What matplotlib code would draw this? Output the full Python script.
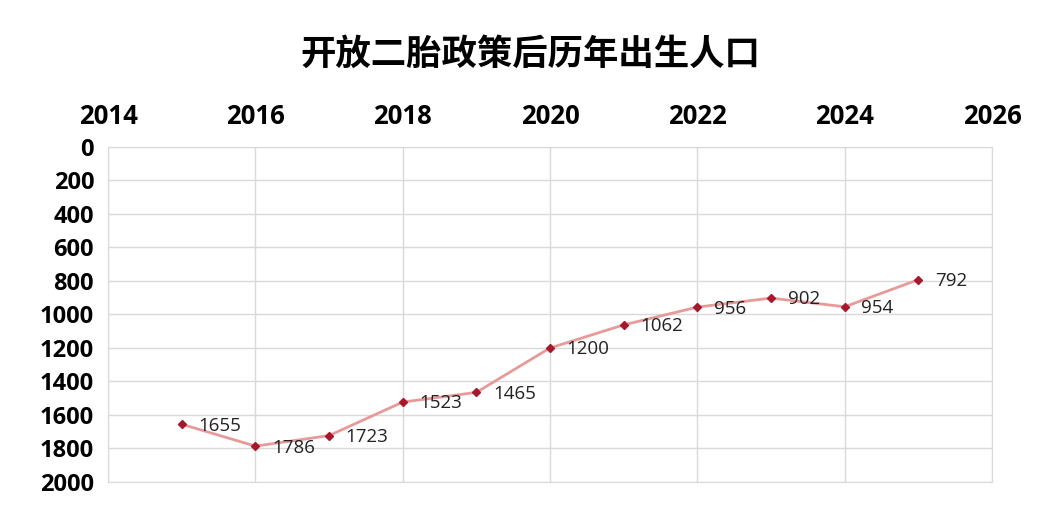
import matplotlib
matplotlib.use("Agg")
import matplotlib.pyplot as plt

plt.rcParams['font.family'] = ['Noto Sans CJK SC', 'DejaVu Sans']

years = [2015, 2016, 2017, 2018, 2019, 2020, 2021, 2022, 2023, 2024, 2025]
births = [1655, 1786, 1723, 1523, 1465, 1200, 1062, 956, 902, 954, 792]
x_ticks = [2014, 2016, 2018, 2020, 2022, 2024, 2026]
y_ticks = [0, 200, 400, 600, 800, 1000, 1200, 1400, 1600, 1800, 2000]

fig = plt.figure(figsize=(10.61, 5.31), dpi=100)
ax = fig.add_axes([0.1018, 0.0923, 0.8332, 0.6309])

ax.plot(years, births, color='#e89a9a', lw=2, zorder=2)
ax.plot(years, births, ls='none', marker='D', ms=4.5, color='#a8182c', zorder=3)
for x, y in zip(years, births):
    ax.annotate(str(y), (x, y), xytext=(12, -1), textcoords='offset points',
                ha='left', va='center', fontsize=13.5, color='#222222',
                family=['Open Sans', 'DejaVu Sans'])

ax.set_xlim(2014, 2026)
ax.set_ylim(2000, 0)
ax.set_xticks(x_ticks)
ax.set_yticks(y_ticks)
ax.xaxis.tick_top()
ax.tick_params(axis='both', length=0)
ax.tick_params(axis='x', pad=12, labelsize=18.5)
ax.tick_params(axis='y', pad=10, labelsize=17)
for lab in ax.get_xticklabels() + ax.get_yticklabels():
    lab.set_fontweight('bold')
    lab.set_family(['Open Sans', 'DejaVu Sans'])
ax.grid(True, color='#d9d9d9', lw=1)
for s in ax.spines.values():
    s.set_color('#d9d9d9')

fig.suptitle('开放二胎政策后历年出生人口', fontsize=25.5, fontweight='bold', y=0.93)

fig.savefig('out.png', dpi=100, facecolor='white')
